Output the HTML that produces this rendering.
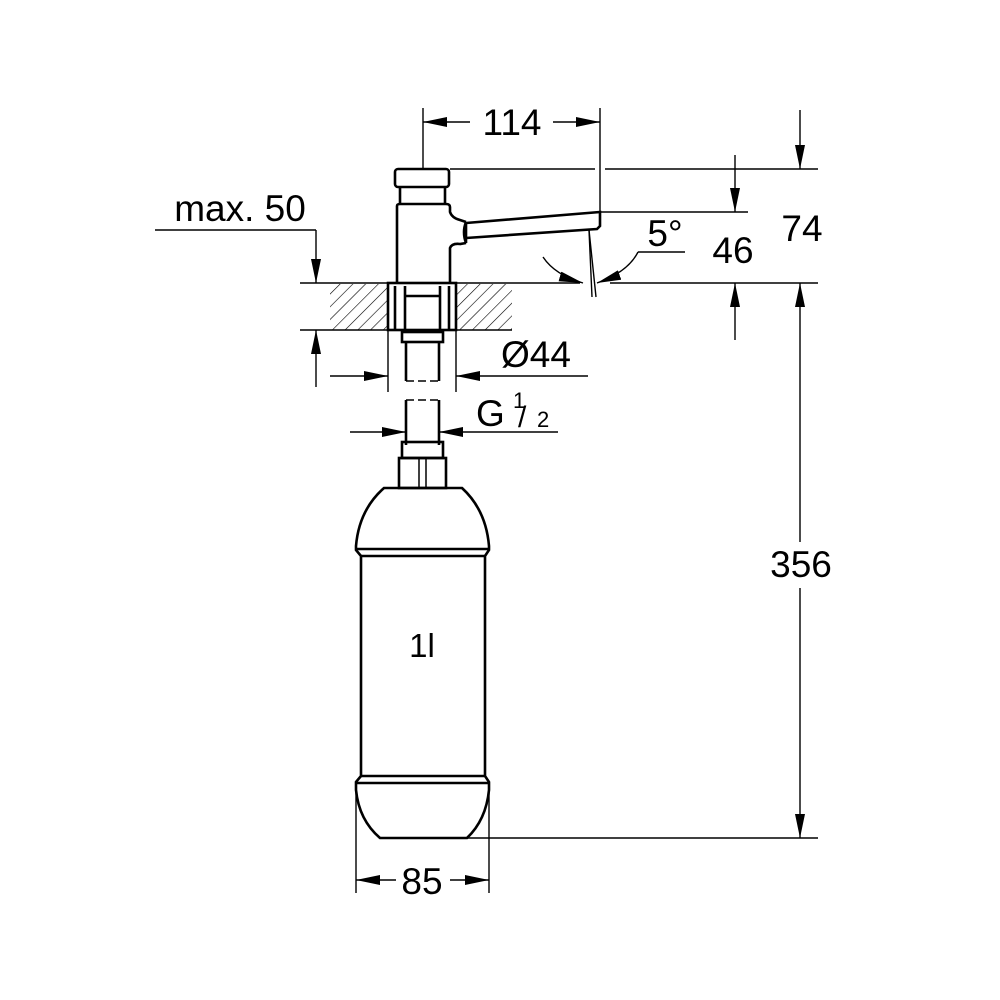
<!DOCTYPE html>
<html><head><meta charset="utf-8"><style>html,body{margin:0;padding:0;background:#fff}svg{display:block}text{font-family:"Liberation Sans",Arial,sans-serif;fill:#000}</style></head>
<body>
<svg width="1000" height="1000" viewBox="0 0 1000 1000" xmlns="http://www.w3.org/2000/svg">
<defs>
<marker id="a" viewBox="0 0 24 10" refX="24" refY="5" markerWidth="24" markerHeight="10" markerUnits="userSpaceOnUse" orient="auto"><path d="M0,0L24,5L0,10z" fill="#000"/></marker>
<pattern id="h" width="9" height="9" patternUnits="userSpaceOnUse" patternTransform="rotate(45)"><line x1="0" y1="0" x2="0" y2="9" stroke="#000" stroke-width="1.2"/></pattern>
</defs>
<g fill="none" stroke="#000" stroke-width="1.4">
<rect x="330" y="284" width="58" height="46" fill="url(#h)" stroke="none"/>
<rect x="456" y="284" width="56" height="46" fill="url(#h)" stroke="none"/>
<line x1="300" y1="283" x2="512" y2="283"/>
<line x1="300" y1="330" x2="512" y2="330"/>
<line x1="512" y1="283" x2="580" y2="283"/>
<line x1="610" y1="283" x2="818" y2="283"/>
<g stroke-width="2.6">
<rect x="395" y="169" width="54" height="18" rx="3" fill="#fff"/>
<line x1="400" y1="187" x2="400" y2="204"/><line x1="445" y1="187" x2="445" y2="204"/>
<path d="M397,283 V206 Q397,204 400,204 H446 Q450,204 450,207 V212 Q452,218 460,220 L466,222" />
<path d="M450,283 V248 Q452,243 460,244 L466,243"/>
<path d="M466,222 Q462,232 466,243 V222"/>
<path d="M466,223 L600,212 V226 L597,229 L466,238"/>
<rect x="388" y="283" width="68" height="47" fill="#fff"/>
<line x1="395" y1="286" x2="395" y2="330"/><line x1="449" y1="286" x2="449" y2="330"/>
<line x1="405" y1="286" x2="405" y2="330"/><line x1="440" y1="286" x2="440" y2="330"/>
<line x1="405" y1="296" x2="440" y2="296"/>
<rect x="402" y="332" width="41" height="10"/>
<line x1="406" y1="342" x2="406" y2="381"/><line x1="439" y1="342" x2="439" y2="381"/>
<line x1="406" y1="400" x2="406" y2="445"/><line x1="439" y1="400" x2="439" y2="445"/>
<rect x="402" y="442" width="41" height="16"/>
<rect x="399" y="458" width="47" height="30"/>
<line x1="419" y1="458" x2="419" y2="488" stroke-width="1.5"/><line x1="426" y1="458" x2="426" y2="488" stroke-width="1.5"/>
<path d="M384,488 H462 Q486,510 489,546 L489,550 L485,556 V776 L489,782 V790 Q486,820 467,838 H380 Q359,820 356,790 V782 L361,776 V556 L356,550 V546 Q359,510 384,488 Z"/>
<line x1="356" y1="549" x2="489" y2="549"/><line x1="361" y1="556" x2="485" y2="556"/>
<line x1="361" y1="776" x2="485" y2="776"/><line x1="356" y1="783" x2="489" y2="783"/>
</g>
<line x1="406" y1="381" x2="439" y2="381" stroke-dasharray="8,4"/>
<line x1="406" y1="400" x2="439" y2="400" stroke-dasharray="8,4"/>
<line x1="589" y1="230" x2="592" y2="297"/><line x1="589" y1="230" x2="596" y2="297"/>
<path d="M543,257 Q555,275 583,283" marker-end="url(#a)"/>
<path d="M638,252 Q628,272 597,283" marker-end="url(#a)"/>
<line x1="638" y1="252" x2="685" y2="252"/>
<line x1="423" y1="108" x2="423" y2="169"/><line x1="600" y1="108" x2="600" y2="212"/>
<line x1="470" y1="122" x2="423" y2="122" marker-end="url(#a)"/>
<line x1="553" y1="122" x2="600" y2="122" marker-end="url(#a)"/>
<line x1="450" y1="169" x2="595" y2="169"/><line x1="605" y1="169" x2="818" y2="169"/>
<line x1="600" y1="212" x2="748" y2="212"/>
<line x1="800" y1="110" x2="800" y2="169" marker-end="url(#a)"/>
<line x1="735" y1="155" x2="735" y2="212" marker-end="url(#a)"/>
<line x1="735" y1="340" x2="735" y2="283" marker-end="url(#a)"/>
<line x1="800" y1="542" x2="800" y2="283" marker-end="url(#a)"/>
<line x1="800" y1="588" x2="800" y2="838" marker-end="url(#a)"/>
<line x1="467" y1="838" x2="818" y2="838"/>
<line x1="155" y1="230" x2="316" y2="230"/>
<line x1="316" y1="230" x2="316" y2="283" marker-end="url(#a)"/>
<line x1="316" y1="387" x2="316" y2="330" marker-end="url(#a)"/>
<line x1="388" y1="330" x2="388" y2="392"/><line x1="456" y1="330" x2="456" y2="392"/>
<line x1="330" y1="376" x2="388" y2="376" marker-end="url(#a)"/>
<line x1="588" y1="376" x2="456" y2="376" marker-end="url(#a)"/>
<line x1="350" y1="432" x2="406" y2="432" marker-end="url(#a)"/>
<line x1="558" y1="432" x2="439" y2="432" marker-end="url(#a)"/>
<line x1="356" y1="790" x2="356" y2="893"/><line x1="489" y1="790" x2="489" y2="893"/>
<line x1="396" y1="880" x2="356" y2="880" marker-end="url(#a)"/>
<line x1="450" y1="880" x2="489" y2="880" marker-end="url(#a)"/>
</g>
<g font-size="37">
<text x="512" y="135" text-anchor="middle">114</text>
<text x="240" y="221" text-anchor="middle">max. 50</text>
<text x="802" y="241" text-anchor="middle">74</text>
<text x="733" y="263" text-anchor="middle">46</text>
<text x="665" y="246" text-anchor="middle">5°</text>
<text x="536" y="367" text-anchor="middle">Ø44</text>
<text x="476" y="426">G</text>
<text x="513" y="408" font-size="22">1</text>
<text x="518" y="427" font-size="30">/</text>
<text x="537" y="427" font-size="22">2</text>
<text x="801" y="577" text-anchor="middle">356</text>
<text x="422" y="894" text-anchor="middle">85</text>
<text x="422" y="657" text-anchor="middle" font-size="33">1l</text>
</g>
</svg>
</body></html>
